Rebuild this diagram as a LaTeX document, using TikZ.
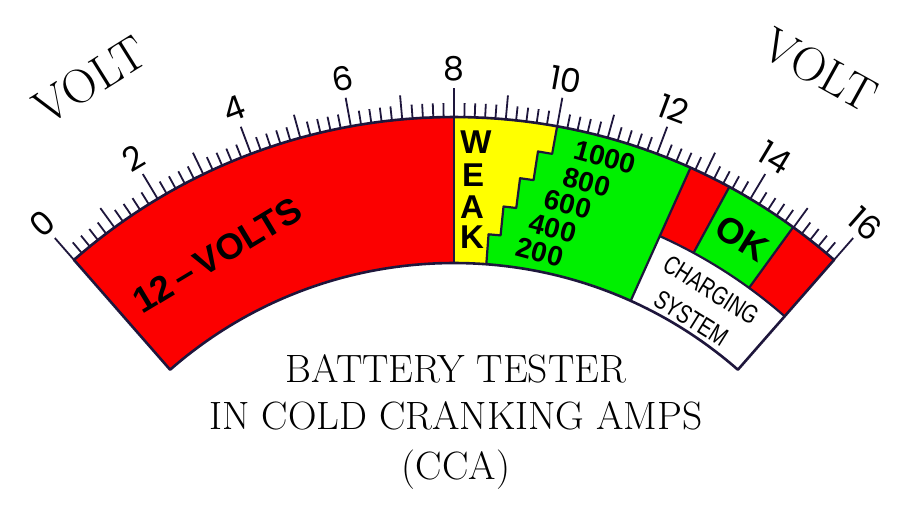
\documentclass[tikz,border=0pt]{standalone}
\usepackage{fontspec}
\usepackage{graphicx}
\newfontfamily\hv{Liberation Sans}
\newfontfamily\pop{Poppins}
\definecolor{mred}{RGB}{252,0,0}
\definecolor{myel}{RGB}{255,255,0}
\definecolor{mgrn}{RGB}{0,240,0}
\definecolor{mline}{RGB}{30,22,60}
\tikzset{
  outline/.style={draw=mline,line width=2.6pt,line join=round},
  sep/.style={draw=mline,line width=2.2pt,line join=round},
  tickline/.style={draw=mline,line width=1.8pt},
  scalelab/.style={font=\pop\fontsize{33}{33}\selectfont,inner sep=0pt},
  volt/.style={font=\fontsize{48}{48}\selectfont,inner sep=0pt},
  bold/.style={font=\hv\bfseries\fontsize{#1}{#1}\selectfont,inner sep=0pt},
  title/.style={font=\fontsize{39.5}{39.5}\selectfont,inner sep=0pt,anchor=base}
}
\begin{document}
\begin{tikzpicture}[x=1pt,y=1pt]
\useasboundingbox (0,0) rectangle (918,513);
\fill[white] (0,0) rectangle (918,513);
\begin{scope}[shift={(454,-181)}]
\def\Ro{577}\def\Ri{431}\def\Rm{502}
% red 12 volts
\fill[mred] (131.2:\Ri) -- (131.2:\Ro) arc[start angle=131.2,end angle=90,radius=\Ro] -- (90:\Ri) arc[start angle=90,end angle=131.2,radius=\Ri] -- cycle;
% yellow weak
\fill[myel] (90:\Ro) arc[start angle=90,end angle=79.7,radius=\Ro] -- (79.7:549) -- (81.2:549) -- (81.2:520) -- (82.7:520) -- (82.7:490) -- (84.2:490) -- (84.2:461) -- (85.7:461) -- (85.7:\Ri) arc[start angle=85.7,end angle=90,radius=\Ri] -- cycle;
% green cca
\fill[mgrn] (79.7:\Ro) arc[start angle=79.7,end angle=65.8,radius=\Ro] -- (65.8:\Ri) arc[start angle=65.8,end angle=85.7,radius=\Ri] -- (85.7:461) -- (84.2:461) -- (84.2:490) -- (82.7:490) -- (82.7:520) -- (81.2:520) -- (81.2:549) -- (79.7:549) -- cycle;
% white box
\fill[white] (65.8:\Ri) -- (65.8:\Rm) arc[start angle=65.8,end angle=48.8,radius=\Rm] -- (48.8:\Ri) arc[start angle=48.8,end angle=65.8,radius=\Ri] -- cycle;
% red 1
\fill[mred] (65.8:\Rm) -- (65.8:\Ro) arc[start angle=65.8,end angle=61.5,radius=\Ro] -- (61.5:\Rm) arc[start angle=61.5,end angle=65.8,radius=\Rm] -- cycle;
% green ok
\fill[mgrn] (61.5:\Rm) -- (61.5:\Ro) arc[start angle=61.5,end angle=54,radius=\Ro] -- (54:\Rm) arc[start angle=54,end angle=61.5,radius=\Rm] -- cycle;
% red 2
\fill[mred] (54:\Rm) -- (54:\Ro) arc[start angle=54,end angle=48.8,radius=\Ro] -- (48.8:\Rm) arc[start angle=48.8,end angle=54,radius=\Rm] -- cycle;
% separators
\draw[sep] (90:\Ro) -- (90:\Ri);
\draw[sep] (79.7:\Ro) -- (79.7:549) -- (81.2:549) -- (81.2:520) -- (82.7:520) -- (82.7:490) -- (84.2:490) -- (84.2:461) -- (85.7:461) -- (85.7:\Ri);
\draw[sep] (65.8:\Ro) -- (65.8:\Ri);
\draw[sep] (65.8:\Rm) arc[start angle=65.8,end angle=48.8,radius=\Rm];
\draw[sep] (61.5:\Ro) -- (61.5:\Rm);
\draw[sep] (54:\Ro) -- (54:\Rm);
% outline
\draw[outline] (131.2:\Ri) -- (131.2:\Ro) arc[start angle=131.2,end angle=48.8,radius=\Ro] -- (48.8:\Ri) arc[start angle=48.8,end angle=131.2,radius=\Ri] -- cycle;
% ticks
\foreach \i in {0,...,80}{
  \pgfmathsetmacro\a{131.2-\i*1.03}
  \pgfmathsetmacro\L{ifthenelse(mod(\i,10)==0,29,ifthenelse(mod(\i,5)==0,24,14))}
  \pgfmathsetmacro\Rt{\Ro+\L}
  \draw[tickline] (\a:\Ro-1) -- (\a:\Rt);
}
% scale labels
\foreach \v in {0,2,...,16}{
  \pgfmathsetmacro\a{131.2-\v*5.15}
  \node[scalelab,rotate=\a-90] (lab\v) at (\a:625) {\v};
}
\end{scope}
% VOLT labels
\node[volt,rotate=32] (voltL) at (90,433) {VOLT};
\node[volt,rotate=-29] (voltR) at (820,443) {VOLT};
% 12 volts
\node[bold=36,rotate=31] (twelve) at (217,258) {12\,–\,VOLTS};
% WEAK
\node[bold=33] (w) at (476,371) {W};
\node[bold=33] (e) at (473,338) {E};
\node[bold=33] (a) at (472,306) {A};
\node[bold=33] (k) at (472,276) {K};
% CCA numbers
\node[bold=28,rotate=-15] (n1000) at (605,356) {1000};
\node[bold=28,rotate=-15] (n800) at (587,331) {800};
\node[bold=28,rotate=-15] (n600) at (568,309) {600};
\node[bold=28,rotate=-15] (n400) at (553,285) {400};
\node[bold=28,rotate=-15] (n200) at (540,261) {200};
% OK
\node[bold=36,rotate=-32] (ok) at (742,275) {OK};
% charging system
\node[font=\hv\fontsize{26}{26}\selectfont,inner sep=0pt,rotate=-32] (chg) at (711,223) {\scalebox{0.76}[1]{CHARGING}};
\node[font=\hv\fontsize{26}{26}\selectfont,inner sep=0pt,rotate=-32] (sys) at (691,195) {\scalebox{0.76}[1]{SYSTEM}};
% title
\node[title] (t1) at (456,130) {BATTERY TESTER};
\node[title] (t2) at (456,83) {IN COLD CRANKING AMPS};
\node[title] (t3) at (456,33) {(CCA)};
\end{tikzpicture}
\end{document}
